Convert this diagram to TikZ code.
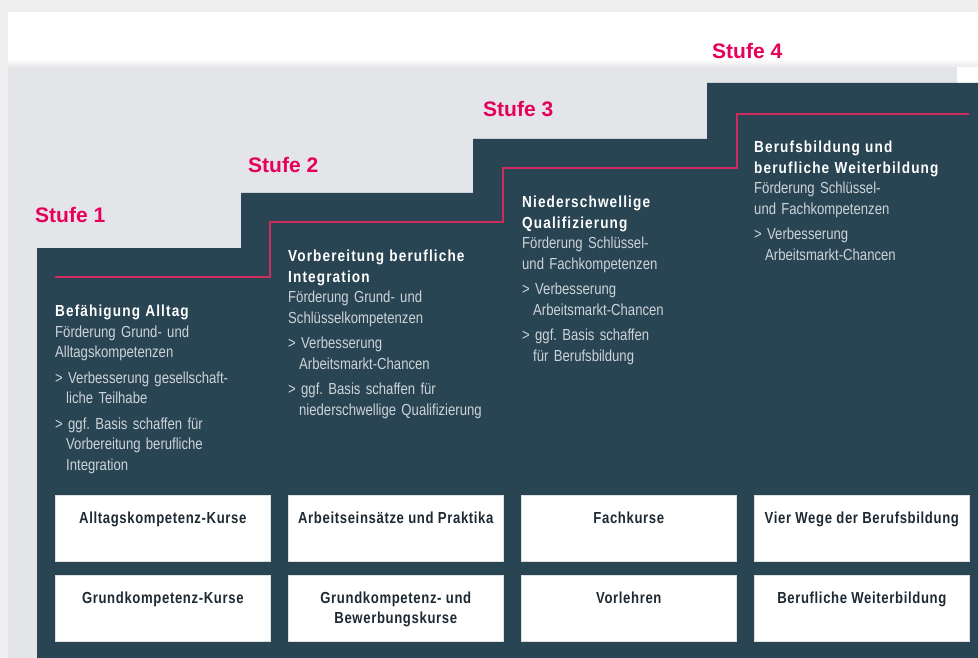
\documentclass[tikz,border=0pt]{standalone}
\usepackage{fontspec}
\setmainfont{Liberation Sans}
\newfontfamily\narrowfont[FakeStretch=0.82]{Liberation Sans}
\newfontfamily\headfont[FakeStretch=0.85, LetterSpace=7]{Liberation Sans Bold}
\newfontfamily\kursfont[FakeStretch=0.82, LetterSpace=4]{Liberation Sans Bold}
\usepackage{xcolor}
\usetikzlibrary{positioning}
\frenchspacing

\definecolor{slate}{HTML}{294452}
\definecolor{panelgrey}{HTML}{E3E5E9}
\definecolor{outergrey}{HTML}{EFEFEF}
\definecolor{stufepink}{HTML}{E6005A}
\definecolor{stepred}{HTML}{D02B5E}
\definecolor{bodygrey}{HTML}{CDD4D9}
\definecolor{boxtext}{HTML}{1E2A33}

\begin{document}
\begin{tikzpicture}[x=1pt, y=-1pt,
        stufe/.style={anchor=base west, inner sep=0, text=stufepink, font=\fontsize{21}{25}\selectfont\bfseries},
        info/.style={anchor=north west, inner sep=0, text width=215pt, align=left, text=bodygrey, font=\narrowfont\fontsize{16}{20.5}\selectfont},
        kurs/.style={anchor=north west, inner sep=0, fill=white, draw=gray!25, line width=0.6pt, minimum width=215pt, minimum height=66pt},
        kurstext/.style={inner sep=0, align=center, text=boxtext, font=\kursfont\fontsize{16}{20.5}\selectfont}]
        \useasboundingbox (0,0) rectangle (978,658);
    
        % Background panels
        \fill[outergrey] (0,0) rectangle (978,658);
        \fill[white] (8,12) rectangle (978,67);
        \shade[top color=white, bottom color=black!8] (8,58) rectangle (978,67);
        \fill[panelgrey] (8,67) rectangle (957,658);
        \fill[white] (957,67) rectangle (978,83);
    
        % Define the corners of the staircase
        \coordinate (S0) at (37,658);
        \coordinate (S1) at (37,248);
        \coordinate (S2) at (241,193);
        \coordinate (S3) at (473,139);
        \coordinate (S4) at (707,83);
        \coordinate (S5) at (978,658);
    
        % Draw the staircase
        \fill[slate] (S0) -- (S1) -| (S2) -| (S3) -| (S4) -| (S5) -- cycle;
    
        % Draw the red step line
        \coordinate (R1) at (55,277);
        \coordinate (R2) at (270,222);
        \coordinate (R3) at (503,168);
        \coordinate (R4) at (737,114);
        \coordinate (R5) at (969,114);
        \draw[stepred, line width=2pt] (R1) -| (R2) -| (R3) -| (R4) -- (R5);
    
        % Label the steps
        \node[stufe] (stufe1) at (35,222.5) {Stufe 1};
        \node[stufe] (stufe2) at (248,173) {Stufe 2};
        \node[stufe] (stufe3) at (483,117) {Stufe 3};
        \node[stufe] (stufe4) at (712,59) {Stufe 4};
    
        % Describe the steps
        \node[info] (ziel1) at (55,305) {{\color{white}\headfont Befähigung Alltag}\\
            Förderung Grund- und\\
            Alltagskompetenzen\\[5pt]
            > Verbesserung gesellschaft-\\
            \hspace*{11pt}liche Teilhabe\\[5pt]
            > ggf. Basis schaffen für\\
            \hspace*{11pt}Vorbereitung berufliche\\
            \hspace*{11pt}Integration};
        \node[info] (ziel2) at (288,250) {{\color{white}\headfont Vorbereitung berufliche\\
            Integration}\\
            Förderung Grund- und\\
            Schlüsselkompetenzen\\[5pt]
            > Verbesserung\\
            \hspace*{11pt}Arbeitsmarkt-Chancen\\[5pt]
            > ggf. Basis schaffen für\\
            \hspace*{11pt}niederschwellige Qualifizierung};
        \node[info] (ziel3) at (522,196) {{\color{white}\headfont Niederschwellige\\
            Qualifizierung}\\
            Förderung Schlüssel-\\
            und Fachkompetenzen\\[5pt]
            > Verbesserung\\
            \hspace*{11pt}Arbeitsmarkt-Chancen\\[5pt]
            > ggf. Basis schaffen\\
            \hspace*{11pt}für Berufsbildung};
        \node[info] (ziel4) at (754,141) {{\color{white}\headfont Berufsbildung und\\
            berufliche Weiterbildung}\\
            Förderung Schlüssel-\\
            und Fachkompetenzen\\[5pt]
            > Verbesserung\\
            \hspace*{11pt}Arbeitsmarkt-Chancen};
    
        % Course boxes, first row
        \node[kurs] (kurs1a) at (55,495) {};
        \node[kurs] (kurs2a) at (288,495) {};
        \node[kurs] (kurs3a) at (521,495) {};
        \node[kurs] (kurs4a) at (754,495) {};
        \node[kurstext, below=16.5pt of kurs1a.north] (text1a) {Alltagskompetenz-Kurse};
        \node[kurstext, below=16.5pt of kurs2a.north] (text2a) {Arbeitseinsätze und Praktika};
        \node[kurstext, below=16.5pt of kurs3a.north] (text3a) {Fachkurse};
        \node[kurstext, below=16.5pt of kurs4a.north] (text4a) {Vier Wege der Berufsbildung};
    
        % Course boxes, second row
        \node[kurs] (kurs1b) at (55,575) {};
        \node[kurs] (kurs2b) at (288,575) {};
        \node[kurs] (kurs3b) at (521,575) {};
        \node[kurs] (kurs4b) at (754,575) {};
        \node[kurstext, below=16.5pt of kurs1b.north] (text1b) {Grundkompetenz-Kurse};
        \node[kurstext, below=16.5pt of kurs2b.north] (text2b) {Grundkompetenz- und\\Bewerbungskurse};
        \node[kurstext, below=16.5pt of kurs3b.north] (text3b) {Vorlehren};
        \node[kurstext, below=16.5pt of kurs4b.north] (text4b) {Berufliche Weiterbildung};
    \end{tikzpicture}
\end{document}
